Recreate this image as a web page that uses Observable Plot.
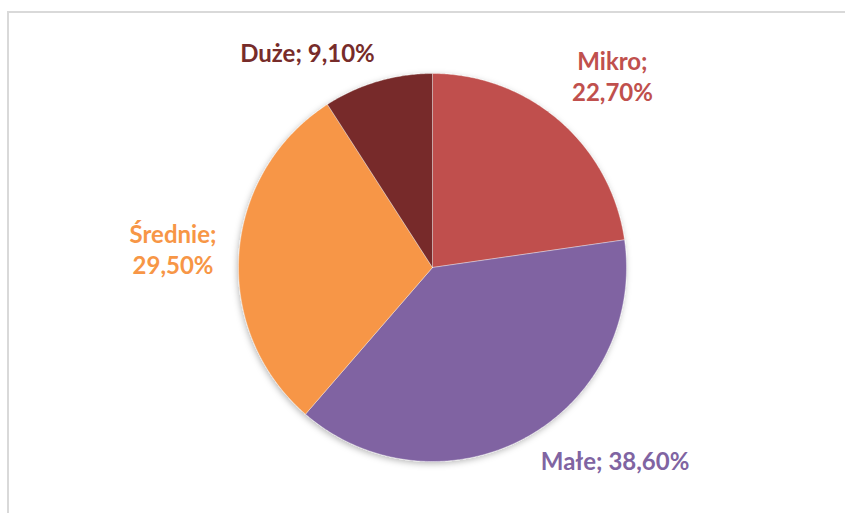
<!DOCTYPE html>
<html>
<head>
<meta charset="utf-8">
<script src="https://cdn.jsdelivr.net/npm/d3@7"></script>
<script src="https://cdn.jsdelivr.net/npm/@observablehq/plot@0.6"></script>
<style>
  html, body { margin: 0; padding: 0; background: #fff; overflow: hidden; }
  #wrap { position: relative; width: 845px; height: 513px; overflow: hidden; }
  #border { position: absolute; left: 7px; top: 11px; width: 900px; height: 600px; border: 2px solid #d9d9d9; box-sizing: border-box; }
  #chart { position: absolute; left: 0; top: 0; }
</style>
</head>
<body>
<div id="wrap"><div id="border"></div><div id="chart"></div></div>
<script>
// ---- data ----
const categories = ["Mikro", "Małe", "Średnie", "Duże"];
const shares = [22.7, 38.6, 29.5, 9.1];
const labelTexts = ["Mikro;\n22,70%", "Małe; 38,60%", "Średnie;\n29,50%", "Duże; 9,10%"];

// ---- style / layout ----
const sliceColors = ["#C0504D", "#8064A2", "#F79646", "#772C2A"];
const labelAngleDeg = [43.6, 137, 273.5, 329.5];
const labelRadius = [1.345, 1.38, 1.34, 1.27];
const W = 845, H = 513, cx = 432, cy = 267, R = 194;

// pie angles (clockwise from 12 o'clock)
const total = d3.sum(shares);
let acc = 0;
const pts = [];
categories.forEach((name, i) => {
  const a0 = acc / total * 2 * Math.PI;
  acc += shares[i];
  const a1 = acc / total * 2 * Math.PI;
  pts.push({name, x: 0, y: 0});
  const n = Math.max(2, Math.ceil((a1 - a0) / (Math.PI / 360)));
  for (let k = 0; k <= n; k++) {
    const a = a0 + (a1 - a0) * k / n;
    pts.push({name, x: Math.sin(a), y: Math.cos(a)});
  }
  pts.push({name, x: 0, y: 0});
});

const labels = categories.map((name, i) => {
  const a = labelAngleDeg[i] * Math.PI / 180;
  return {name, text: labelTexts[i], x: Math.sin(a) * labelRadius[i], y: Math.cos(a) * labelRadius[i]};
});

const plot = Plot.plot({
  width: W, height: H,
  margin: 0,
  x: {domain: [-cx / R, (W - cx) / R], range: [0, W], axis: null},
  y: {domain: [(cy - H) / R, cy / R], range: [H, 0], axis: null},
  color: {domain: categories, range: sliceColors},
  style: {background: "transparent"},
  marks: [
    Plot.line(pts, {x: "x", y: "y", z: "name", fill: "name", stroke: "#ffffff", strokeWidth: 0.6, strokeOpacity: 0.6, curve: "linear"}),
    Plot.text(labels, {x: "x", y: "y", text: "text", fill: "name", fontSize: 24, fontWeight: "bold", fontFamily: "Lato", lineHeight: 1.3, textAnchor: "middle", dy: -3})
  ]
});

// soft shadow under the pie
const svgNS = "http://www.w3.org/2000/svg";
const defs = document.createElementNS(svgNS, "defs");
defs.innerHTML = '<filter id="pieShadow" x="-20%" y="-20%" width="140%" height="140%"><feDropShadow dx="-1" dy="2" stdDeviation="3" flood-color="#000" flood-opacity="0.28"/></filter>';
plot.insertBefore(defs, plot.firstChild);
const lineGroup = plot.querySelector('g[aria-label="line"]');
if (lineGroup) lineGroup.setAttribute("filter", "url(#pieShadow)");

document.getElementById("chart").appendChild(plot);
</script>
</body>
</html>
